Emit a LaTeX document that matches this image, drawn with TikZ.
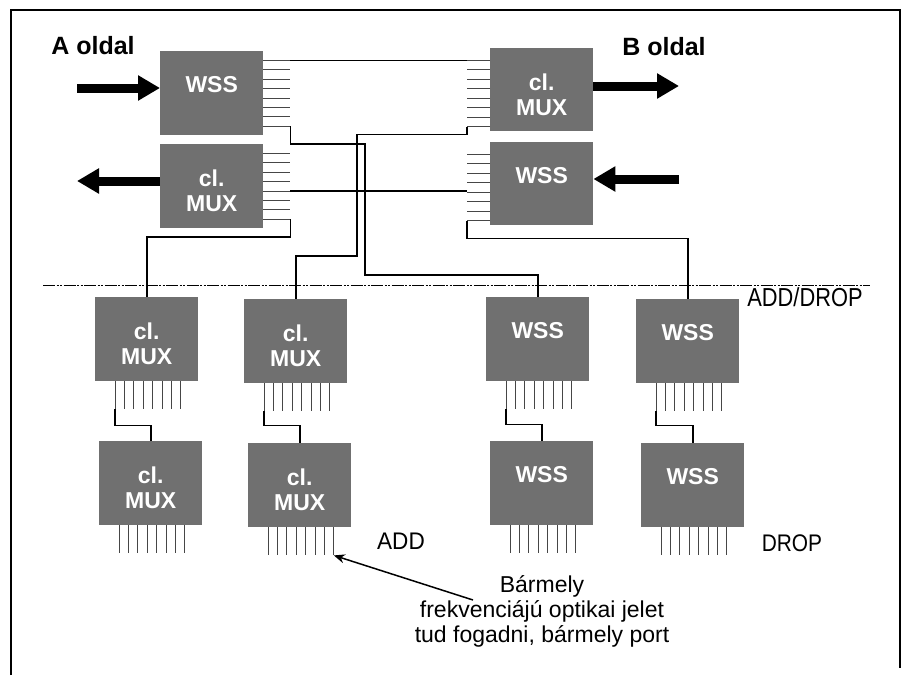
\documentclass[tikz,border=0pt]{standalone}
\usepackage{fontspec}
\setmainfont{Liberation Sans}
\usepackage{xcolor}
\usepackage{graphicx}
\usetikzlibrary{arrows.meta}

\definecolor{boxgray}{RGB}{112,112,112}
\definecolor{stubgray}{RGB}{70,70,70}

\begin{document}
\begin{tikzpicture}[x=1pt, y=-1pt,
        box/.style={fill=boxgray, minimum width=103pt, minimum height=84pt,
            anchor=north west, inner sep=0pt, text=white, align=center,
            font=\fontsize{23}{25}\selectfont\bfseries},
        wsslbl/.style={text height=17pt, text depth=18pt},
        muxlbl/.style={text height=51pt},
        stub/.style={stubgray, line width=1pt},
        conn/.style={black, line width=1.8pt},
        bigarrow/.style={line width=9pt, -{Triangle[length=22pt, width=24pt]}},
        pointer/.style={line width=1.5pt, -{Stealth[length=11pt, width=9pt]}}]

        \useasboundingbox (0,0) rectangle (908,675);
        \draw[line width=1.2pt] (11,675) -- (11,10) -- (900,10) -- (900,668);

        % A and B side
        \node[box, wsslbl] (wa) at (160,51) {WSS};
        \node[box, muxlbl] (ma) at (160,144) {cl.\\MUX};
        \node[box, muxlbl, minimum height=83pt] (mb) at (490,48) {cl.\\MUX};
        \node[box, wsslbl, minimum height=83pt] (wb) at (490,142) {WSS};

        \node[font=\fontsize{25}{28}\selectfont\bfseries] (aside) at (93,46) {A oldal};
        \node[font=\fontsize{25}{28}\selectfont\bfseries] (bside) at (664,47) {B oldal};

        \foreach \b in {wa, ma}
            \foreach \i in {1,...,8}
                \draw[stub] ([yshift={-9.5-9.4*(\i-1)}]\b.north east) -- ++(27,0) coordinate (\b-\i);
        \foreach \b in {mb, wb}
            \foreach \i in {1,...,8}
                \draw[stub] ([yshift={-12-9.5*(\i-1)}]\b.north west) -- ++(-23,0) coordinate (\b-\i);

        \coordinate (ain) at (77,88);
        \coordinate (aout) at (77,181);
        \coordinate (bout) at (679,86);
        \coordinate (bin) at (679,179);
        \draw[bigarrow] (ain) -- (ain -| wa.west);
        \draw[bigarrow] (aout -| ma.west) -- (aout);
        \draw[bigarrow] (bout -| mb.east) -- (bout);
        \draw[bigarrow] (bin) -- (bin -| wb.east);

        % add / drop
        \draw[line width=1pt, dash pattern=on 12pt off 1.5pt on 2pt off 1.5pt on 2pt off 1.5pt]
            (43,285) -- (870,285);
        \node[font=\fontsize{26}{28}\selectfont] (adddrop) at (805,297) {\scalebox{0.84}[1]{ADD/DROP}};

        \node[box, muxlbl] (c1) at (95,297) {cl.\\MUX};
        \node[box, muxlbl] (c2) at (244,299) {cl.\\MUX};
        \node[box, wsslbl] (w3) at (486,297) {WSS};
        \node[box, wsslbl] (w4) at (636,299) {WSS};
        \node[box, muxlbl] (c5) at (99,441) {cl.\\MUX};
        \node[box, muxlbl] (c6) at (248,443) {cl.\\MUX};
        \node[box, wsslbl] (w7) at (490,441) {WSS};
        \node[box, wsslbl] (w8) at (641,443) {WSS};

        \foreach \b in {c1, c2, w3, w4, c5, c6, w7, w8}
            \foreach \i in {1,...,8}
                \draw[stub] ([xshift={20+9.4*(\i-1)}]\b.south west) -- ++(0,28) coordinate (\b-\i);

        \node[font=\fontsize{24}{26}\selectfont] (add) at (401,541) {\scalebox{0.94}[1]{ADD}};
        \node[font=\fontsize{24}{26}\selectfont] (drop) at (792,543) {\scalebox{0.87}[1]{DROP}};

        % connections
        \draw[conn] (wa-1) -- (wa-1 -| mb-1);
        \draw[conn] (wa-8) -- ++(0,18) -| (365,275) -| (w3.north);
        \draw[conn] (mb-8) -- ++(0,8) -| (357,256) -| (c2.north);
        \draw[conn] (ma-5) -- (ma-5 -| wb-5);
        \draw[conn] (ma-8) -- ++(0,18) -| (c1.north);
        \draw[conn] (wb-8) -- ++(0,18) -| (w4.north);

        \draw[conn] (c1-1) -- ++(0,16) -| (c5.north);
        \draw[conn] (c2-1) -- ++(0,14) -| (c6.north);
        \draw[conn] (w3-1) -- ++(0,15) -| (w7.north);
        \draw[conn] (w4-1) -- ++(0,14) -| (w8.north);

        \node[font=\fontsize{23}{25}\selectfont, align=center, anchor=north, inner sep=0pt]
            (note) at (542,575) {Bármely\\frekvenciájú optikai jelet\\tud fogadni, bármely port};
        \coordinate (notetail) at (473,600);
        \draw[pointer] (notetail) -- (c6-8);
\end{tikzpicture}
\end{document}
